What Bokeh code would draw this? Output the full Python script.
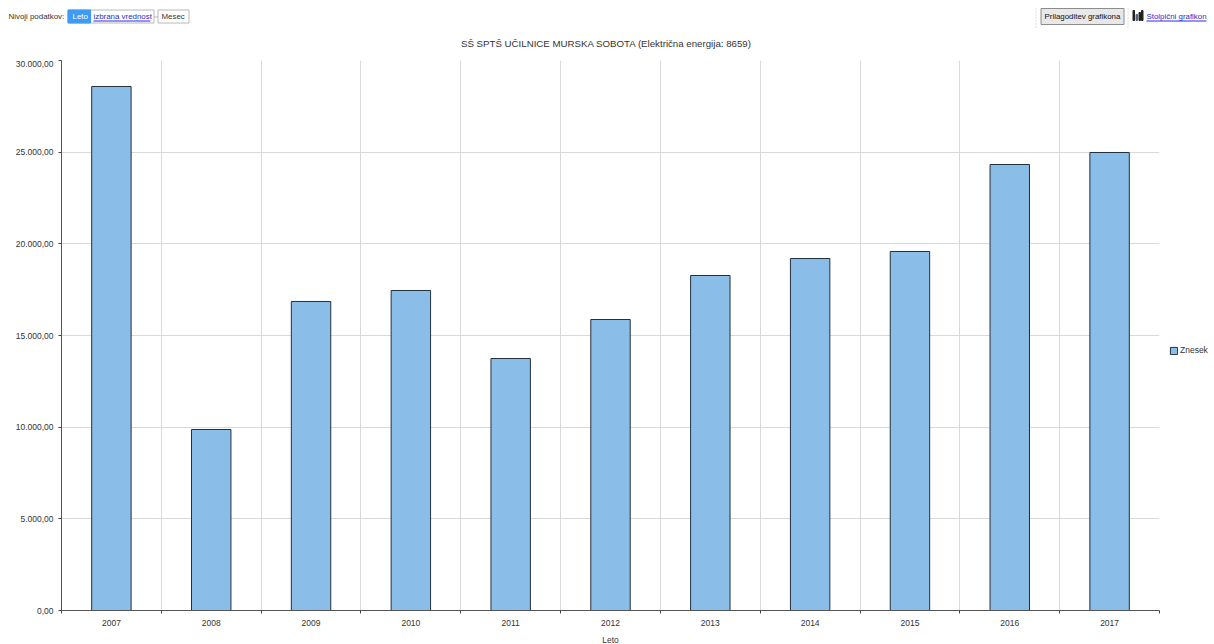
from bokeh.embed import file_html
from bokeh.layouts import column, row
from bokeh.resources import INLINE
from bokeh.plotting import figure
from bokeh.core.properties import value
from bokeh.models import (ColumnDataSource, FixedTicker, Grid, Legend, LegendItem, Range1d)

years = ["2007","2008","2009","2010","2011","2012","2013","2014","2015","2016","2017"]
amounts = [28582,9873,16855,17455,13745,15873,18273,19200,19582,24327,24982]
y_ticks = [0,5000,10000,15000,20000,25000,30000]
y_labels = ["0,00","5.000,00","10.000,00","15.000,00","20.000,00","25.000,00","30.000,00"]
title_text = "SŠ SPTŠ UČILNICE MURSKA SOBOTA (Električna energija: 8659)"
series_name = "Znesek"
x_title = "Leto"

W, H, HEAD = 1214, 644, 60
FL, FB = 61, 610
FONT = "Liberation Sans"
SMALL = "8.5px"
HEADER = "7.9px"
TXT = "#333333"
LINK = "#2a2ae0"

# ---- header strip (level selector, title, buttons)
h = figure(width=W, height=HEAD, output_backend="svg", toolbar_location=None,
           x_range=Range1d(0, W), y_range=Range1d(HEAD, 0), min_border=0,
           x_axis_location=None, y_axis_location=None, outline_line_color=None)
h.xgrid.visible = False
h.ygrid.visible = False

def text(x, y, s, size=HEADER, color=TXT, align="left"):
    h.text([x], [y], text=[s], text_font=value(FONT), text_font_size=value(size),
           text_color=color, text_align=align, text_baseline="middle")
def box(x0, y0, x1, y1, fill=None, line="#b8b8b8"):
    h.quad(left=[x0], right=[x1], top=[y0], bottom=[y1], fill_color=fill or "white",
           line_color=line, line_width=1)
def rule(x0, y0, x1, y1, color, dash="solid"):
    h.segment([x0], [y0], [x1], [y1], line_color=color, line_width=1, line_dash=dash)

text(606, 42.5, title_text, size="9.7px", align="center")
text(8, 16, "Nivoji podatkov:")
box(67.5, 9.5, 153.5, 22.5)
box(67.5, 9.5, 90, 22.5, fill="#3d9bf5", line="#3d9bf5")
text(72, 16, "Leto", color="white")
text(93, 16, "izbrana vrednost", color=LINK)
rule(93, 20.5, 150, 20.5, LINK)
rule(153.5, 16.5, 157.5, 16.5, "#b8b8b8")
box(157.5, 9.5, 188.5, 22.5)
text(161, 16, "Mesec")
rule(1035.5, 8, 1035.5, 29, "#c0c0c0", "1 2")
rule(1127.5, 8, 1127.5, 29, "#c0c0c0", "1 2")
box(1040.5, 8, 1123.5, 24, fill="#e8e8e8", line="#8c8c8c")
text(1044, 16, "Prilagoditev grafikona", color="#111111")
text(1146, 16, "Stolpični grafikon", color=LINK)
rule(1146, 20.5, 1206, 20.5, LINK)
for (x0, x1, y0, c) in [(1132.5, 1134, 10, "#222222"), (1135.5, 1137, 14, "#556677"),
                        (1138.5, 1140, 12, "#222222"), (1141, 1142.5, 10, "#222222")]:
    box(x0, y0, x1, 20, fill=c, line=c)

# ---- chart
p = figure(width=W, height=H - HEAD, output_backend="svg", toolbar_location=None,
           x_range=Range1d(0, len(years)), y_range=Range1d(0, 30000),
           frame_width=1098, frame_height=550,
           min_border_left=FL, min_border_right=0, min_border_top=0, min_border_bottom=H - FB,
           outline_line_color=None, background_fill_color="white")
p.xgrid.visible = False
p.ygrid.visible = False

centers = [i + 0.5 for i in range(len(years))]
bounds = list(range(len(years) + 1))
p.add_layout(Grid(dimension=0, ticker=FixedTicker(ticks=bounds), grid_line_color="#d9d9d9"))
p.add_layout(Grid(dimension=1, ticker=FixedTicker(ticks=y_ticks), grid_line_color="#d9d9d9"))

src = ColumnDataSource(dict(x=centers, top=amounts))
bars = p.vbar(x="x", top="top", width=0.395, bottom=0, source=src,
              fill_color="#8bbde9", line_color="#22303c", line_width=1)

xa = p.xaxis[0]
xa.ticker = FixedTicker(ticks=centers, minor_ticks=bounds)
xa.major_label_overrides = {c: y for c, y in zip(centers, years)}
xa.major_tick_line_color = None
xa.minor_tick_line_color = "#444444"
xa.minor_tick_in = 0
xa.minor_tick_out = 3
xa.major_tick_out = 4
xa.major_label_standoff = 5
xa.axis_line_color = "#555555"
xa.axis_label = x_title
xa.axis_label_text_font = FONT
xa.axis_label_text_font_size = SMALL
xa.axis_label_text_font_style = "normal"
xa.axis_label_text_color = TXT
xa.axis_label_standoff = 6

ya = p.yaxis[0]
ya.ticker = FixedTicker(ticks=y_ticks)
ya.major_label_overrides = {t: l for t, l in zip(y_ticks, y_labels)}
ya.major_tick_in = 0
ya.major_tick_out = 3
ya.major_tick_line_color = "#444444"
ya.axis_line_color = "#555555"
ya.major_label_standoff = 5
for a in (xa, ya):
    a.major_label_text_font = FONT
    a.major_label_text_font_size = SMALL
    a.major_label_text_color = TXT

legend = Legend(items=[LegendItem(label=series_name, renderers=[bars])],
                location=(10, 255), border_line_color=None, background_fill_alpha=0,
                padding=0, margin=0, glyph_width=9, glyph_height=9, label_standoff=2,
                label_text_font=FONT, label_text_font_size=SMALL, label_text_color=TXT)
p.add_layout(legend, "right")

page = column(row(h), p, spacing=0)
open("out.html", "w").write(file_html(page, INLINE))
